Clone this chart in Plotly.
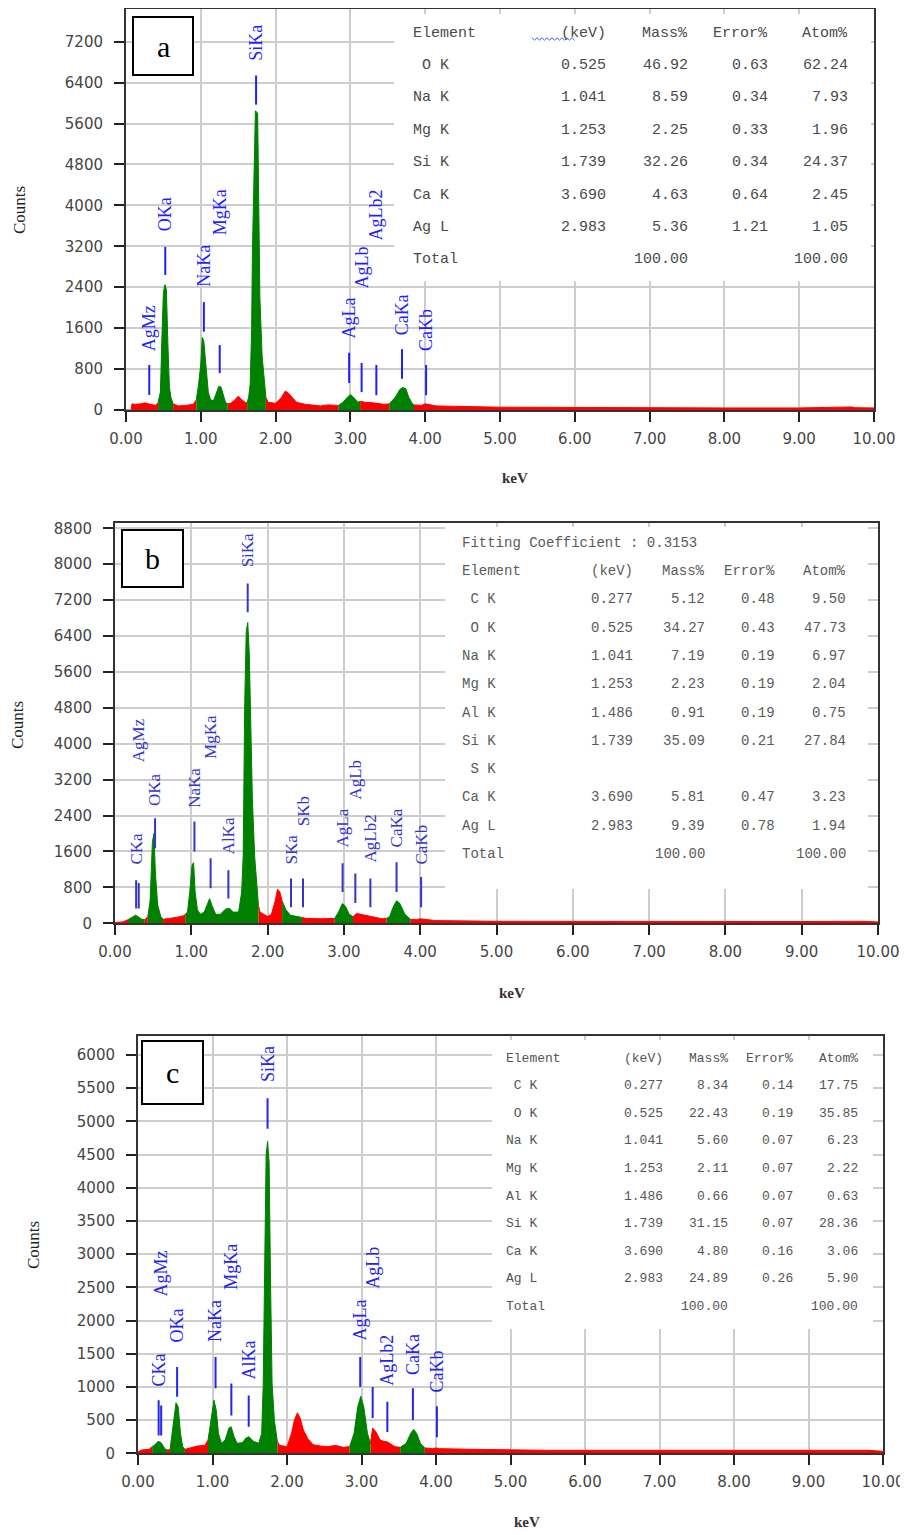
import plotly.graph_objects as go

# page body adds an 8px margin, so the figure is placed at (8, 8) in the window
OFF = 8
W, H = 908 - OFF, 1535 - OFF

# ---------------- Panel a data ----------------
energy_a = [0.00, 0.07, 0.08, 0.12, 0.20, 0.25, 0.30, 0.35, 0.40, 0.43, 0.46, 0.48, 0.50, 0.52, 0.54,
            0.56, 0.58, 0.60, 0.63, 0.70, 0.80, 0.90, 0.94, 0.97, 1.00, 1.02, 1.04, 1.06, 1.08, 1.10,
            1.13, 1.17, 1.20, 1.24, 1.27, 1.30, 1.33, 1.36, 1.40, 1.45, 1.50, 1.55, 1.60, 1.62, 1.64,
            1.66, 1.68, 1.69, 1.71, 1.73, 1.76, 1.77, 1.79, 1.82, 1.85, 1.87, 1.90, 2.00, 2.08, 2.13,
            2.18, 2.22, 2.28, 2.40, 2.60, 2.70, 2.84, 2.90, 2.96, 3.00, 3.04, 3.10, 3.13, 3.20, 3.30,
            3.45, 3.52, 3.60, 3.66, 3.70, 3.74, 3.78, 3.83, 3.85, 3.95, 4.00, 4.05, 4.15, 5.00, 5.70,
            6.00, 6.50, 7.00, 7.50, 8.00, 9.00, 9.70, 9.75, 10.00]
counts_a = [0, 0, 120, 110, 120, 140, 120, 100, 90, 150, 350, 1400, 2300, 2450, 2350,
            1300, 450, 250, 120, 80, 90, 110, 200, 500, 900, 1420, 1350, 1000, 600, 350,
            200, 180, 300, 460, 450, 300, 150, 120, 130, 190, 270, 200, 140, 150, 250,
            500, 1600, 3100, 4900, 5850, 5800, 4000, 2200, 1050, 550, 250, 150, 130, 250, 370,
            320, 250, 150, 110, 80, 100, 90, 150, 250, 300, 250, 150, 170, 150, 140,
            110, 120, 250, 400, 440, 420, 250, 120, 100, 90, 120, 110, 80, 55, 50,
            45, 50, 45, 45, 40, 40, 60, 45, 40]
green_a = [(0.43, 0.63), (0.94, 1.36), (1.62, 1.87), (2.84, 3.13), (3.52, 3.85)]

peaks_a = ["AgMz", "OKa", "NaKa", "MgKa", "SiKa", "AgLa", "AgLb", "AgLb2", "CaKa", "CaKb"]
peak_e_a = [0.311, 0.525, 1.041, 1.253, 1.739, 2.983, 3.150, 3.347, 3.690, 4.012]
mark_lo_a = [294, 2640, 1530, 720, 5970, 530, 350, 290, 610, 290]
mark_hi_a = [880, 3190, 2110, 1270, 6540, 1120, 920, 880, 1190, 880]
label_at_a = [1135, 3480, 2390, 3390, 6810, 1370, 2350, 3290, 1430, 1135]

elem_a = ["\u00a0O K", "Na K", "Mg K", "Si K", "Ca K", "Ag L"]
kev_a = ["0.525", "1.041", "1.253", "1.739", "3.690", "2.983"]
mass_a = ["46.92", "8.59", "2.25", "32.26", "4.63", "5.36"]
err_a = ["0.63", "0.34", "0.33", "0.34", "0.64", "1.21"]
atom_a = ["62.24", "7.93", "1.96", "24.37", "2.45", "1.05"]

# ---------------- Panel b data ----------------
energy_b = [0.00, 0.10, 0.17, 0.22, 0.27, 0.30, 0.35, 0.39, 0.43, 0.46, 0.49, 0.51, 0.53, 0.56, 0.60,
            0.63, 0.70, 0.80, 0.90, 0.92, 0.95, 0.98, 1.01, 1.03, 1.05, 1.08, 1.12, 1.17, 1.21, 1.24,
            1.27, 1.32, 1.38, 1.45, 1.50, 1.55, 1.62, 1.66, 1.68, 1.70, 1.72, 1.74, 1.76, 1.78, 1.80,
            1.83, 1.86, 1.88, 1.90, 2.00, 2.05, 2.10, 2.13, 2.16, 2.19, 2.24, 2.30, 2.40, 2.45, 2.50,
            2.70, 2.88, 2.93, 2.98, 3.02, 3.07, 3.12, 3.17, 3.22, 3.35, 3.50, 3.56, 3.60, 3.65, 3.69,
            3.73, 3.80, 3.87, 3.95, 4.00, 4.05, 4.20, 5.00, 6.00, 6.50, 7.00, 8.00, 9.00, 9.80, 10.00]
counts_b = [20, 30, 80, 130, 180, 150, 90, 80, 150, 500, 1800, 2000, 1100, 400, 150,
            90, 100, 130, 170, 200, 250, 700, 1300, 1350, 700, 300, 200, 250, 450, 550,
            400, 200, 200, 320, 330, 250, 250, 700, 1500, 4900, 6500, 6700, 6000, 4000, 2800,
            1500, 900, 400, 250, 150, 200, 500, 760, 700, 500, 300, 180, 150, 130, 110,
            100, 110, 250, 440, 380, 200, 150, 220, 200, 150, 100, 110, 150, 380, 500,
            450, 200, 90, 80, 100, 90, 60, 45, 40, 50, 45, 45, 40, 45, 30]
green_b = [(0.17, 0.39), (0.43, 0.63), (0.92, 1.88), (2.19, 2.45), (2.88, 3.12), (3.56, 3.87)]

peaks_b = ["CKa", "AgMz", "OKa", "NaKa", "MgKa", "AlKa", "SiKa", "SKa", "SKb", "AgLa", "AgLb", "AgLb2", "CaKa", "CaKb"]
peak_e_b = [0.277, 0.311, 0.525, 1.041, 1.253, 1.486, 1.739, 2.307, 2.464, 2.983, 3.150, 3.347, 3.690, 4.012]
mark_lo_b = [330, 330, 1670, 1600, 780, 550, 6930, 360, 360, 700, 450, 360, 700, 360]
mark_hi_b = [960, 900, 2340, 2270, 1450, 1180, 7570, 1000, 1000, 1340, 1110, 1000, 1360, 1030]
label_at_b = [1290, 3560, 2580, 2560, 3630, 1510, 7900, 1290, 2140, 1670, 2740, 1340, 1670, 1290]

elem_b = ["\u00a0C K", "\u00a0O K", "Na K", "Mg K", "Al K", "Si K", "\u00a0S K", "Ca K", "Ag L"]
kev_b = ["0.277", "0.525", "1.041", "1.253", "1.486", "1.739", "", "3.690", "2.983"]
mass_b = ["5.12", "34.27", "7.19", "2.23", "0.91", "35.09", "", "5.81", "9.39"]
err_b = ["0.48", "0.43", "0.19", "0.19", "0.19", "0.21", "", "0.47", "0.78"]
atom_b = ["9.50", "47.73", "6.97", "2.04", "0.75", "27.84", "", "3.23", "1.94"]

# ---------------- Panel c data ----------------
energy_c = [0.00, 0.05, 0.15, 0.19, 0.22, 0.27, 0.31, 0.36, 0.39, 0.43, 0.44, 0.48, 0.51, 0.54, 0.57,
            0.60, 0.63, 0.70, 0.80, 0.90, 0.94, 0.98, 1.02, 1.05, 1.08, 1.12, 1.17, 1.22, 1.25, 1.29,
            1.33, 1.40, 1.45, 1.49, 1.55, 1.62, 1.66, 1.68, 1.70, 1.72, 1.74, 1.76, 1.78, 1.80, 1.83,
            1.87, 1.90, 2.00, 2.06, 2.10, 2.14, 2.18, 2.22, 2.28, 2.35, 2.45, 2.55, 2.65, 2.75, 2.84,
            2.90, 2.95, 2.99, 3.03, 3.08, 3.12, 3.15, 3.19, 3.25, 3.30, 3.35, 3.45, 3.52, 3.60, 3.66,
            3.70, 3.74, 3.79, 3.85, 3.95, 4.00, 4.05, 4.50, 5.00, 5.50, 6.00, 7.00, 7.20, 8.00, 9.00,
            9.80, 10.00]
counts_c = [20, 50, 60, 100, 120, 180, 160, 70, 50, 55, 150, 500, 760, 700, 300,
            100, 60, 80, 110, 120, 200, 500, 800, 650, 300, 150, 200, 380, 400, 250,
            150, 160, 230, 250, 180, 150, 300, 1000, 2950, 4500, 4700, 4380, 2500, 1050, 500,
            180, 120, 100, 300, 500, 610, 520, 350, 220, 130, 110, 100, 120, 90, 100,
            300, 700, 860, 700, 300, 150, 380, 330, 200, 180, 170, 100, 90, 150, 300,
            360, 300, 150, 80, 70, 80, 70, 60, 50, 45, 45, 45, 40, 45, 40,
            45, 30]
green_c = [(0.19, 0.39), (0.43, 0.63), (0.94, 1.87), (2.84, 3.12), (3.52, 3.85)]

peaks_c = ["CKa", "AgMz", "OKa", "NaKa", "MgKa", "AlKa", "SiKa", "AgLa", "AgLb", "AgLb2", "CaKa", "CaKb"]
peak_e_c = [0.277, 0.311, 0.525, 1.041, 1.253, 1.486, 1.739, 2.983, 3.150, 3.347, 3.690, 4.012]
mark_lo_c = [270, 270, 850, 980, 570, 400, 4890, 1000, 530, 320, 500, 240]
mark_hi_c = [800, 720, 1300, 1450, 1050, 870, 5350, 1450, 1000, 775, 980, 710]
label_at_c = [995, 2350, 1655, 1655, 2455, 1100, 5570, 1680, 2460, 1000, 1170, 900]

elem_c = ["\u00a0C K", "\u00a0O K", "Na K", "Mg K", "Al K", "Si K", "Ca K", "Ag L"]
kev_c = ["0.277", "0.525", "1.041", "1.253", "1.486", "1.739", "3.690", "2.983"]
mass_c = ["8.34", "22.43", "5.60", "2.11", "0.66", "31.15", "4.80", "24.89"]
err_c = ["0.14", "0.19", "0.07", "0.07", "0.07", "0.07", "0.16", "0.26"]
atom_c = ["17.75", "35.85", "6.23", "2.22", "0.63", "28.36", "3.06", "5.90"]

header = ["Element", "(keV)", "Mass%", "Error%", "Atom%"]

# ---------------- helpers (window pixels -> paper fractions) ----------------
def fx(p):
    return (p - OFF) / W

def fy(p):
    return 1 - (p - OFF) / H

RED = "#ff0000"
GREEN = "#008000"

fig = go.Figure()
annotations = []
shapes = []

panels = [
    dict(key="", energy=energy_a, counts=counts_a, green=green_a, peaks=peaks_a, pe=peak_e_a,
         lo=mark_lo_a, hi=mark_hi_a, lab=label_at_a, x0=126, x1=874, ytop=9, ybot=410,
         ymax=7840, dtick=800, lblcolor="#1f1fff", lblsize=18, letter="a",
         box=(133, 17, 193, 75), white=(394, 14, 871, 281), counts_xy=(20, 210), kev_xy=(515, 478)),
    dict(key="2", energy=energy_b, counts=counts_b, green=green_b, peaks=peaks_b, pe=peak_e_b,
         lo=mark_lo_b, hi=mark_hi_b, lab=label_at_b, x0=115, x1=878, ytop=523, ybot=923.3,
         ymax=8917, dtick=800, lblcolor="#3434c8", lblsize=17, letter="b",
         box=(122, 530, 183, 587), white=(445, 527, 868, 889), counts_xy=(17, 725), kev_xy=(512, 993)),
    dict(key="3", energy=energy_c, counts=counts_c, green=green_c, peaks=peaks_c, pe=peak_e_c,
         lo=mark_lo_c, hi=mark_hi_c, lab=label_at_c, x0=138, x1=883, ytop=1036, ybot=1453.3,
         ymax=6286, dtick=500, lblcolor="#2424f0", lblsize=18, letter="c",
         box=(142, 1041, 203, 1104), white=(492, 1040, 873, 1329), counts_xy=(33, 1245), kev_xy=(527, 1522)),
]

tick_font = dict(family="DejaVu Sans", size=15, color="#454545")

def window(energy, counts, a, b):
    ex = [e for e in energy if a - 1e-9 <= e <= b + 1e-9]
    cy = [c for e, c in zip(energy, counts) if a - 1e-9 <= e <= b + 1e-9]
    return ex, cy

for p in panels:
    k = p["key"]
    xa, ya = "x" + k, "y" + k
    # background (unfitted) parts of the spectrum in red, fitted peak windows in green
    edges = [0.0] + [v for w in p["green"] for v in w] + [10.0]
    red_windows = [(edges[i], edges[i + 1]) for i in range(0, len(edges), 2)]
    for (a, b) in red_windows:
        ex, cy = window(p["energy"], p["counts"], a, b)
        fig.add_trace(go.Scatter(x=ex, y=cy, mode="lines", fill="tozeroy", fillcolor=RED,
                                 line=dict(color=RED, width=1), xaxis=xa, yaxis=ya,
                                 hoverinfo="skip"))
    for (a, b) in p["green"]:
        ex, cy = window(p["energy"], p["counts"], a, b)
        fig.add_trace(go.Scatter(x=ex, y=cy, mode="lines", fill="tozeroy", fillcolor=GREEN,
                                 line=dict(color=GREEN, width=1), xaxis=xa, yaxis=ya,
                                 hoverinfo="skip"))
    # peak marker lines
    mx, my = [], []
    for e, lo, hi in zip(p["pe"], p["lo"], p["hi"]):
        mx += [e, e, None]
        my += [lo, hi, None]
    fig.add_trace(go.Scatter(x=mx, y=my, mode="lines", line=dict(color=p["lblcolor"], width=2),
                             xaxis=xa, yaxis=ya, hoverinfo="skip"))
    # peak labels
    for name, e, yl in zip(p["peaks"], p["pe"], p["lab"]):
        annotations.append(dict(x=e, y=yl, xref=xa, yref=ya, text=name, textangle=-90,
                                showarrow=False, xanchor="center", yanchor="bottom",
                                font=dict(family="Liberation Serif", size=p["lblsize"],
                                          color=p["lblcolor"]),
                                borderpad=0))
    # axes
    axis_x = dict(domain=[fx(p["x0"]), fx(p["x1"])], range=[0, 10], dtick=1, tick0=0,
                  tickformat=".2f", showgrid=True, gridcolor="#cdcdcd", gridwidth=2,
                  showline=True, linecolor="#333", linewidth=2, mirror=True,
                  ticks="outside", ticklen=10, tickwidth=2, tickcolor="#222",
                  ticklabelstandoff=4, tickfont=tick_font, zeroline=False,
                  anchor=ya, fixedrange=True, automargin=False)
    axis_y = dict(domain=[fy(p["ybot"]), fy(p["ytop"])], range=[0, p["ymax"]], dtick=p["dtick"],
                  tick0=0, tickformat="d", showgrid=True, gridcolor="#cdcdcd", gridwidth=2,
                  showline=True, linecolor="#333", linewidth=2, mirror=True,
                  ticks="outside", ticklen=10, tickwidth=2, tickcolor="#222",
                  ticklabelstandoff=8, tickfont=tick_font, zeroline=False,
                  anchor=xa, fixedrange=True, automargin=False)
    fig.update_layout(**{"xaxis" + k: axis_x, "yaxis" + k: axis_y})
    # white table area covering the grid
    wx0, wy0, wx1, wy1 = p["white"]
    shapes.append(dict(type="rect", xref="paper", yref="paper", x0=fx(wx0), x1=fx(wx1),
                       y0=fy(wy1), y1=fy(wy0), fillcolor="white", line=dict(width=0),
                       layer="above"))
    # letter box
    bx0, by0, bx1, by1 = p["box"]
    shapes.append(dict(type="rect", xref="paper", yref="paper", x0=fx(bx0), x1=fx(bx1),
                       y0=fy(by1), y1=fy(by0), fillcolor="white",
                       line=dict(color="black", width=2), layer="above"))
    annotations.append(dict(x=fx((bx0 + bx1) / 2), y=fy((by0 + by1) / 2), xref="paper", yref="paper",
                            text=p["letter"], showarrow=False, xanchor="center", yanchor="middle",
                            font=dict(family="Liberation Serif", size=30, color="black")))
    # axis titles
    cx, cy_ = p["counts_xy"]
    annotations.append(dict(x=fx(cx), y=fy(cy_), xref="paper", yref="paper", text="Counts",
                            textangle=-90, showarrow=False, xanchor="center", yanchor="middle",
                            font=dict(family="Liberation Serif", size=17, color="#222")))
    kx, ky = p["kev_xy"]
    annotations.append(dict(x=fx(kx), y=fy(ky), xref="paper", yref="paper", text="<b>keV</b>",
                            showarrow=False, xanchor="center", yanchor="middle",
                            font=dict(family="Liberation Serif", size=15, color="#333")))

# ---------------- tables ----------------
def add_table(elems, kev, mass, err, atom, xel, xcols, y_header, row_step, size, color,
              extra=None):
    f = dict(family="Liberation Mono", size=size, color=color)
    def txt(s, x, y, anchor):
        annotations.append(dict(x=fx(x), y=fy(y), xref="paper", yref="paper", text=s,
                                showarrow=False, xanchor=anchor, yanchor="middle", font=f))
    if extra:
        txt(extra[0], xel, extra[1], "left")
    txt(header[0], xel, y_header, "left")
    for j, h in enumerate(header[1:]):
        txt(h, xcols[j], y_header, "right")
    for i in range(len(elems)):
        y = y_header + (i + 1) * row_step
        txt(elems[i], xel, y, "left")
        for j, col in enumerate([kev, mass, err, atom]):
            if col[i]:
                txt(col[i], xcols[j], y, "right")
    yt = y_header + (len(elems) + 1) * row_step
    txt("Total", xel, yt, "left")
    txt("100.00", xcols[1], yt, "right")
    txt("100.00", xcols[3], yt, "right")

add_table(elem_a, kev_a, mass_a, err_a, atom_a, 411, [608, 690, 770, 850], 33, 32.4, 15, "#4a4a4a")
add_table(elem_b, kev_b, mass_b, err_b, atom_b, 460, [635, 707, 777, 848], 571, 28.3, 14, "#5a5a5a",
          extra=("Fitting Coefficient : 0.3153", 543))
add_table(elem_c, kev_c, mass_c, err_c, atom_c, 504, [665, 730, 795, 860], 1058, 27.6, 13, "#555555")

# spell-check squiggle under "(keV)" in panel a
sq = []
xp = 532
i = 0
while xp <= 576:
    yy = 39 + (1.2 if i % 2 else -1.2)
    sq.append(("M" if i == 0 else "L") + f" {fx(xp):.5f},{fy(yy):.5f}")
    xp += 2.5
    i += 1
shapes.append(dict(type="path", xref="paper", yref="paper", path=" ".join(sq),
                   line=dict(color="#3b62ff", width=1), layer="above"))

fig.update_layout(width=W, height=H, margin=dict(l=0, r=0, t=0, b=0, autoexpand=False),
                  paper_bgcolor="white", plot_bgcolor="white", showlegend=False,
                  annotations=annotations, shapes=shapes)

fig.write_html("out.html")
